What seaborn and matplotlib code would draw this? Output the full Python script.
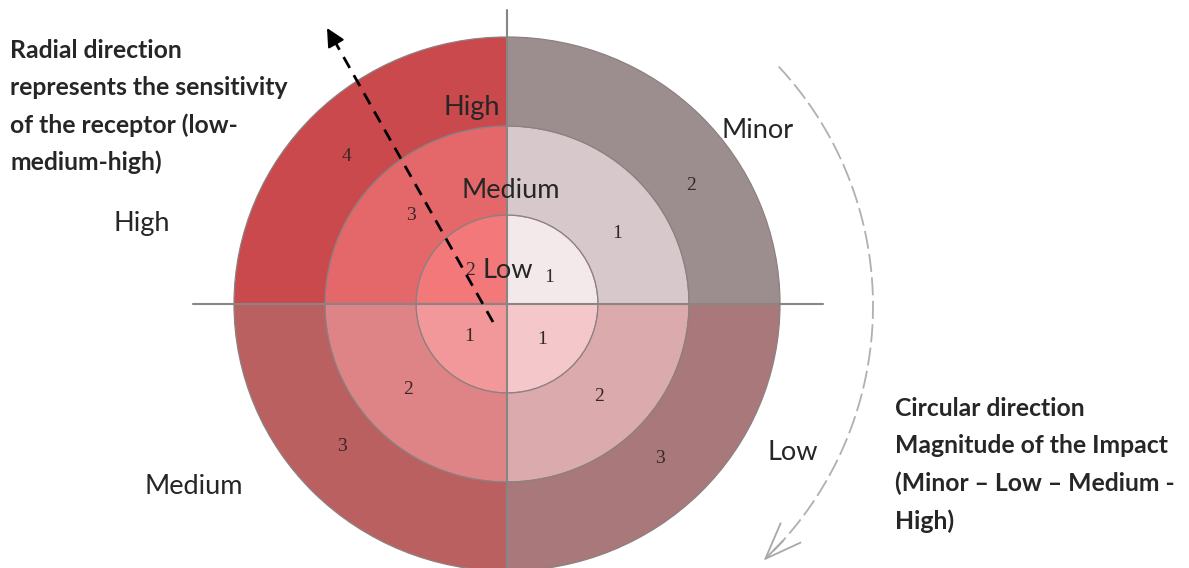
import numpy as np
import pandas as pd
import matplotlib
matplotlib.use("Agg")
import matplotlib.pyplot as plt
import seaborn as sns

# ---------------- data ----------------
magnitudes = ["Minor", "Low", "Medium", "High"]        # clockwise from 12 o'clock
sensitivities = ["Low", "Medium", "High"]              # inner -> outer ring
scores_minor = [1, 1, 2]
scores_low = [1, 2, 3]
scores_medium = [1, 2, 3]
scores_high = [2, 3, 4]

colors_minor = ["#F3E9EA", "#D7C9CB", "#9C8D8E"]
colors_low = ["#F4C8CA", "#DBAAAC", "#A8787A"]
colors_medium = ["#F3989A", "#DF8486", "#BB6061"]
colors_high = ["#F2787A", "#E4676A", "#C9494C"]

radial_title = ["Radial direction", "represents the sensitivity",
                "of the receptor (low-", "medium-high)"]
circular_title = ["Circular direction", "Magnitude of the Impact",
                  "(Minor \u2013 Low \u2013 Medium -", "High)"]

# ---------------- table ----------------
rows = []
for q, (mag, sc, cols) in enumerate(zip(magnitudes,
                                        [scores_minor, scores_low, scores_medium, scores_high],
                                        [colors_minor, colors_low, colors_medium, colors_high])):
    for r, (sens, s, c) in enumerate(zip(sensitivities, sc, cols)):
        rows.append(dict(quadrant=q, magnitude=mag, ring=r, sensitivity=sens, score=s, color=c))
df = pd.DataFrame(rows)

# ---------------- style ----------------
sns.set_theme(style="white")
plt.rcParams["font.family"] = ["Lato", "DejaVu Sans"]

W, H = 1189, 568
fig = plt.figure(figsize=(W / 100, H / 100), dpi=100)
fig.patch.set_facecolor("white")

# polar axes geometry (pixels)
cx, cy = 507, 304
ux, uy = 91.0, 89.0
R = 3.5
ax = fig.add_axes([(cx - R * ux) / W, (H - cy - R * uy) / H, 2 * R * ux / W, 2 * R * uy / H],
                  projection="polar")
ax.set_aspect("auto")
ax.set_theta_zero_location("N")
ax.set_theta_direction(-1)
ax.set_ylim(0, R)
ax.set_axis_off()

width = np.pi / 2
ax.bar(df["quadrant"] * width + width / 2, 1.0, width=width, bottom=df["ring"],
       color=df["color"], edgecolor="#8e8080", linewidth=0.9, zorder=1)

# score numbers
angle_frac = {0: 0.63, 1: 0.51, 2: 0.54, 3: 0.48}
ring_r = {0: 0.55, 1: 1.45, 2: 2.42}
for _, row in df.iterrows():
    th = row["quadrant"] * width + angle_frac[row["quadrant"]] * width
    ax.text(th, ring_r[row["ring"]], str(row["score"]), ha="center", va="center",
            fontsize=14, family=["Liberation Serif", "DejaVu Serif"], color="#3a2626", zorder=4)

# axis cross lines
line_c = "#8a8484"
ax.plot([0, 0], [0, 3.3], color=line_c, lw=1.5, zorder=3)
ax.plot([np.pi, np.pi], [0, 3.4], color=line_c, lw=1.5, zorder=3)
ax.plot([np.pi / 2, np.pi / 2], [0, 3.47], color=line_c, lw=1.5, zorder=3)
ax.plot([3 * np.pi / 2, 3 * np.pi / 2], [0, 3.45], color=line_c, lw=1.5, zorder=3)

# ---------------- overlay for annotations ----------------
ov = fig.add_axes([0, 0, 1, 1])
ov.set_xlim(0, W)
ov.set_ylim(H, 0)
ov.set_axis_off()
ov.patch.set_visible(False)

lab_fs = 19.5
ov.text(500, 107, sensitivities[2], ha="right", va="center", fontsize=lab_fs)
ov.text(511, 190, sensitivities[1], ha="center", va="center", fontsize=lab_fs)
ov.text(508, 270, sensitivities[0], ha="center", va="center", fontsize=lab_fs)

ov.text(758, 130, magnitudes[0], ha="center", va="center", fontsize=lab_fs)
ov.text(793, 453, magnitudes[1], ha="center", va="center", fontsize=lab_fs)
ov.text(194, 487, magnitudes[2], ha="center", va="center", fontsize=lab_fs)
ov.text(142, 224, magnitudes[3], ha="center", va="center", fontsize=lab_fs)

for i, line in enumerate(radial_title):
    ov.text(10, 50 + 37.4 * i, line, ha="left", va="center", fontsize=17.8, fontweight="bold")
for i, line in enumerate(circular_title):
    ov.text(895, 408 + 37.6 * i, line, ha="left", va="center", fontsize=17.8, fontweight="bold")

# black dashed radial arrow (dashed shaft + solid head)
ov.plot([493, 334], [322, 40], color="black", lw=2, linestyle=(0, (4.5, 3)))
ov.annotate("", xy=(327, 28), xytext=(335, 42),
            arrowprops=dict(arrowstyle="-|>,head_length=0.8,head_width=0.4", color="black",
                            lw=1.5, mutation_scale=14, shrinkA=0, shrinkB=0))

# grey dashed circular arrow
acx, acy, ar = 522, 306, 351
t = np.linspace(np.deg2rad(-43), np.deg2rad(45), 200)
ov.plot(acx + ar * np.cos(t), acy + ar * np.sin(t), color="#b0b0b0", lw=1.3,
        linestyle=(0, (10, 3)))
t_end = np.deg2rad(46.5)
t_pre = np.deg2rad(42)
ov.annotate("", xy=(acx + ar * np.cos(t_end), acy + ar * np.sin(t_end)),
            xytext=(acx + ar * np.cos(t_pre), acy + ar * np.sin(t_pre)),
            arrowprops=dict(arrowstyle="->,head_length=1.3,head_width=0.5", color="#a8a8a8",
                            lw=1.3, mutation_scale=20, shrinkA=0, shrinkB=0))

fig.savefig("out.png", dpi=100, facecolor="white")
